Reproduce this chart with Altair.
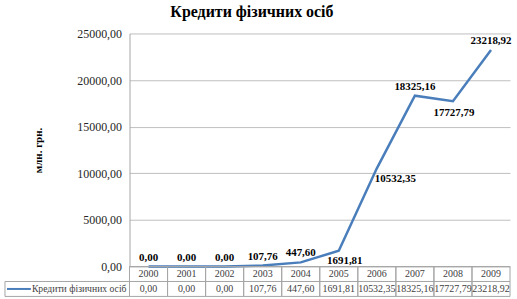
import altair as alt
import pandas as pd

# ---- data ----
years = ["2000", "2001", "2002", "2003", "2004", "2005", "2006", "2007", "2008", "2009"]
values = [0.00, 0.00, 0.00, 107.76, 447.60, 1691.81, 10532.35, 18325.16, 17727.79, 23218.92]
series_name = "Кредити фізичних осіб"
chart_title = "Кредити фізичних осіб"
y_title = "млн. грн."
y_ticks = [0, 5000, 10000, 15000, 20000, 25000]

# label placement groups
above_years = ["2000", "2001", "2002", "2003", "2004", "2007", "2009"]
below_right_years = ["2005"]
below_years = ["2008"]
right_years = ["2006"]

SERIF = "'Liberation Serif', 'Times New Roman', 'DejaVu Serif', serif"
BLUE = "#4a7ebb"
GRID = "#bfbfbf"
BORDER = "#a6a6a6"

df = pd.DataFrame({"year": years, "value": values})
fmt = "replace(format(datum.value, '.2f'), '.', ',')"

base = alt.Chart(df).transform_calculate(label=fmt)
x = alt.X("year:O", axis=None, scale=alt.Scale(padding=0.5))
y_axis = alt.Y(
    "value:Q",
    scale=alt.Scale(domain=[0, 25000], nice=False),
    axis=alt.Axis(values=y_ticks, labelExpr=fmt, title=y_title),
)
y = alt.Y("value:Q")

line = base.mark_line(color=BLUE, strokeWidth=2.5).encode(x=x, y=y_axis)

txt = dict(font=SERIF, fontSize=11, fontWeight="bold", color="#000000", baseline="middle")


def labels(group, **kw):
    return base.transform_filter(
        alt.FieldOneOfPredicate(field="year", oneOf=group)
    ).mark_text(**txt, **kw).encode(x=x, y=y, text="label:N")


t_above = labels(above_years, dy=-9)
t_below_r = labels(below_right_years, dy=10, dx=6)
t_below = labels(below_years, dy=12, dx=1)
t_right = labels(right_years, dy=11, dx=-2, align="left")

top = alt.layer(line, t_above, t_below_r, t_below, t_right).properties(
    width=382,
    height=234,
    title=alt.TitleParams(
        chart_title, anchor="start", frame="group", dx=41, font=SERIF, fontSize=16,
        fontWeight="bold", color="#000000", offset=8,
    ),
)

# ---- data table below the plot ----
rows = []
for yr, v in zip(years, values):
    rows.append({"year": yr, "row": "a", "text": yr})
    rows.append({"year": yr, "row": "b", "text": f"{v:.2f}".replace(".", ",")})
tdf = pd.DataFrame(rows)
ldf = pd.DataFrame({"row": ["b"], "name": [series_name]})

xb = alt.X("year:O", axis=None, scale=alt.Scale(paddingInner=0, paddingOuter=0))
yb = alt.Y("row:O", axis=None, scale=alt.Scale(paddingInner=0, paddingOuter=0))

cells = alt.Chart(tdf).mark_rect(fill="transparent", stroke=BORDER, strokeWidth=1).encode(x=xb, y=yb)
cell_text = alt.Chart(tdf).mark_text(font=SERIF, fontSize=10, color="#404040").encode(
    x=xb, y=yb, text="text:N"
)
leg_cell = alt.Chart(ldf).mark_rect(fill="transparent", stroke=BORDER, strokeWidth=1).encode(
    x=alt.value(-125), x2=alt.value(0), y=yb
)
leg_line = alt.Chart(ldf).mark_rule(color=BLUE, strokeWidth=2).encode(
    x=alt.value(-123), x2=alt.value(-99), y=yb
)
leg_text = alt.Chart(ldf).mark_text(font=SERIF, fontSize=9.7, color="#404040", align="left").encode(
    x=alt.value(-98), y=yb, text="name:N"
)

bottom = alt.layer(cells, cell_text, leg_cell, leg_line, leg_text).properties(width=382, height=30)

chart = (
    alt.vconcat(top, bottom, spacing=0, bounds="flush")
    .properties(padding={"left": 4, "top": 3, "right": 5, "bottom": 0}, background="white")
    .configure_view(stroke=None)
    .configure_axis(
        domainColor=BORDER,
        gridColor=GRID,
        ticks=False,
        labelPadding=8,
        labelFont=SERIF,
        labelFontSize=12,
        labelColor="#262626",
        titleFont=SERIF,
        titleFontSize=11,
        titleFontWeight="bold",
        titleColor="#000000",
        titlePadding=33,
    )
)

chart.save("out.html", embed_options={"renderer": "svg", "actions": False})
